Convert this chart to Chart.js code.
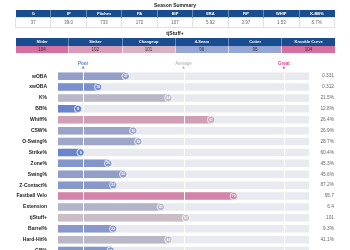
<!DOCTYPE html>
<html>
<head>
<meta charset="utf-8">
<script src="https://cdn.jsdelivr.net/npm/chart.js@4.4.0/dist/chart.umd.min.js"></script>
<style>
  html,body{margin:0;padding:0;background:#fff;}
  body{width:350px;height:250px;overflow:hidden;position:relative;font-family:'Liberation Sans',Arial,sans-serif;}
  .ttl{position:absolute;left:0;width:350px;text-align:center;font-weight:bold;font-size:5px;color:#222;line-height:6px;}
  table{position:absolute;left:15px;width:320px;border-collapse:collapse;table-layout:fixed;}
  th{background:#1a4d8f;color:#fff;font-weight:bold;font-size:4px;padding:0;line-height:4px;border-left:0.5px solid rgba(255,255,255,0.35);text-align:center;}
  td{font-size:4.5px;color:#666;padding:0;line-height:5px;text-align:center;}
  #t1 td{border:0.5px solid #e2e2e2;}
  #t2 td{color:#333;border-left:0.5px solid rgba(255,255,255,0.6);}
  #wrap{position:absolute;left:0;top:0;width:350px;height:262px;}
</style>
</head>
<body>
<div id="wrap"><canvas id="c" width="350" height="262"></canvas></div>
<div class="ttl" style="top:1.5px">Season Summary</div>
<table id="t1" style="top:10px"><tr id="h1" style="height:7.5px"></tr><tr id="v1" style="height:9.5px"></tr></table>
<div class="ttl" style="top:30px">tjStuff+</div>
<table id="t2" style="top:37.5px"><tr id="h2" style="height:8px"></tr><tr id="v2" style="height:7.5px"></tr></table>
<script>
// ---- data ----
const summaryCols = ['G','IP','Pitches','PA','BIP','ERA','FIP','WHIP','K-BB%'];
const summaryVals = ['37','39.0','733','172','107','5.92','3.97','1.53','8.7%'];
const pitchTypes = ['Slider','Sinker','Changeup','4-Seam','Cutter','Knuckle Curve'];
const pitchStuff = [104,102,101,96,96,104];
const metrics = ['wOBA','xwOBA','K%','BB%','Whiff%','CSW%','O-Swing%','Strike%','Zone%','Swing%','Z-Contact%','Fastball Velo','Extension','tjStuff+','Barrel%','Hard-Hit%','GB%'];
const percentiles = [27,16,44,8,61,30,32,9,20,26,22,70,41,51,22,44,21];
const rawValues = ['0.331','0.312','21.5%','12.8%','26.4%','26.9%','28.7%','60.4%','45.3%','45.6%','87.2%','95.7','6.4','101','9.3%','41.1%',''];
const guideMarks = [10,50,90];
const guideNames = ['Poor','Average','Great'];

// ---- styling helpers ----
const guideColors = ['#4a78c8','#aaaaaa','#e0408a'];
function mix(a,b,t){return a.map((v,i)=>Math.round(v+(b[i]-v)*t));}
function colorFor(p){
  const lo=[85,120,205], mid=[200,193,198], hi=[230,40,125];
  const c = p<50 ? mix(mid,lo,(50-p)/50) : mix(mid,hi,(p-50)/50);
  return 'rgb('+c.join(',')+')';
}
function stuffColor(v){
  const lo=[150,166,212], mid=[218,200,204], hi=[214,112,163];
  const c = v<100 ? mix(mid,lo,Math.min(1,(100-v)/4)) : mix(mid,hi,Math.min(1,(v-100)/4));
  return 'rgb('+c.join(',')+')';
}

// ---- tables ----
summaryCols.forEach(c=>{const th=document.createElement('th');th.textContent=c;document.getElementById('h1').appendChild(th);});
summaryVals.forEach(c=>{const td=document.createElement('td');td.textContent=c;document.getElementById('v1').appendChild(td);});
pitchTypes.forEach(c=>{const th=document.createElement('th');th.textContent=c;document.getElementById('h2').appendChild(th);});
pitchStuff.forEach(v=>{const td=document.createElement('td');td.textContent=v;td.style.background=stuffColor(v);document.getElementById('v2').appendChild(td);});

// ---- chart ----
const overlay = {
  id:'overlay',
  afterDatasetsDraw(chart){
    const ctx=chart.ctx, xs=chart.scales.x, area=chart.chartArea;
    ctx.save();
    ctx.strokeStyle='#ffffff'; ctx.lineWidth=1;
    guideMarks.forEach(g=>{
      const x=Math.round(xs.getPixelForValue(g))+0.5;
      ctx.beginPath(); ctx.moveTo(x,area.top); ctx.lineTo(x,area.bottom); ctx.stroke();
    });
    ctx.textAlign='center'; ctx.textBaseline='middle';
    guideMarks.forEach((g,i)=>{
      const x=xs.getPixelForValue(g);
      ctx.fillStyle=guideColors[i];
      ctx.font=(i===1?'':'bold ')+'4.5px "Liberation Sans", Arial';
      ctx.fillText(guideNames[i],x,area.top-7);
      ctx.beginPath(); ctx.moveTo(x-1.4,area.top-2.3); ctx.lineTo(x+1.4,area.top-2.3); ctx.lineTo(x,area.top-4.7); ctx.closePath(); ctx.fill();
    });
    const meta=chart.getDatasetMeta(0);
    meta.data.forEach((bar,i)=>{
      ctx.beginPath(); ctx.arc(bar.x,bar.y,3.7,0,Math.PI*2);
      ctx.fillStyle=colorFor(percentiles[i]); ctx.fill();
      ctx.strokeStyle='#ffffff'; ctx.lineWidth=0.8; ctx.stroke();
      ctx.fillStyle='#ffffff'; ctx.font='bold 3.4px "Liberation Sans", Arial';
      ctx.textAlign='center'; ctx.fillText(String(percentiles[i]),bar.x,bar.y+0.2);
      ctx.fillStyle='#666'; ctx.font='4.8px "Liberation Sans", Arial'; ctx.textAlign='right';
      ctx.fillText(rawValues[i],334,bar.y);
    });
    ctx.restore();
  }
};

new Chart(document.getElementById('c'),{
  type:'bar',
  data:{
    labels:metrics,
    datasets:[
      {data:percentiles,backgroundColor:percentiles.map(colorFor),barThickness:6.8,grouped:false,order:1},
      {data:metrics.map(()=>100),backgroundColor:'#e9eaef',barThickness:6.8,grouped:false,order:2}
    ]
  },
  options:{
    indexAxis:'y',responsive:false,animation:false,
    layout:{padding:{top:70.7,bottom:1.3,right:41,left:0}},
    plugins:{legend:{display:false},tooltip:{enabled:false}},
    scales:{
      x:{display:false,min:0,max:100},
      y:{grid:{display:false},border:{display:false},
         afterFit(s){s.width=58;},
         ticks:{color:'#222',padding:3,font:{family:'"Liberation Sans", Arial',weight:'bold',size:5}}}
    }
  },
  plugins:[overlay]
});
</script>
</body>
</html>
